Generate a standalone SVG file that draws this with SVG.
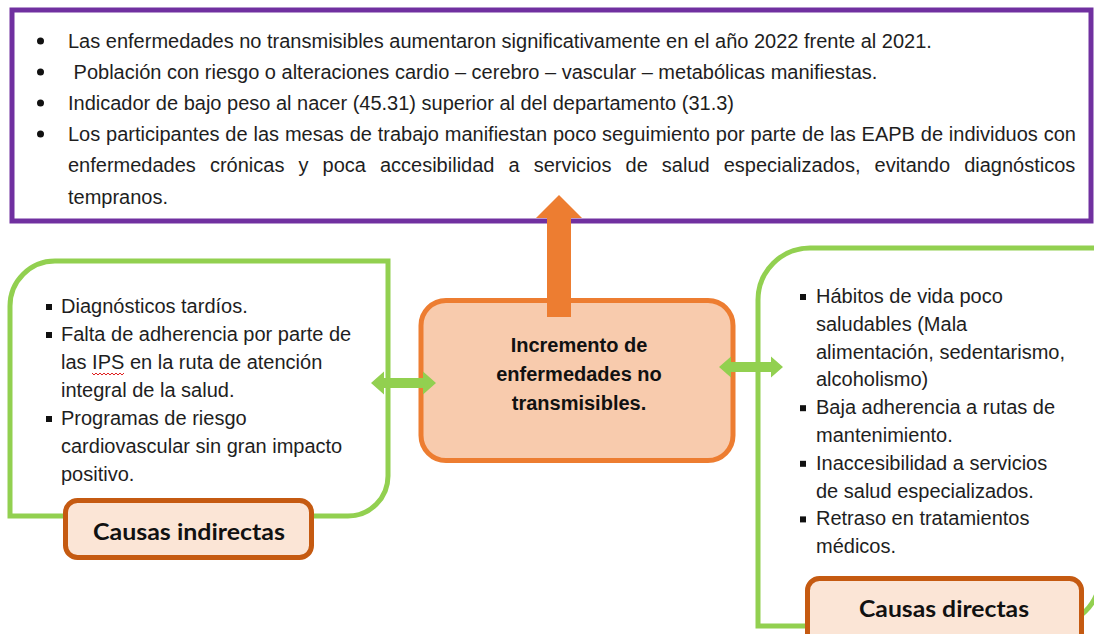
<svg xmlns="http://www.w3.org/2000/svg" width="1094" height="634" viewBox="0 0 1094 634">
<style>
.t{font-family:"Liberation Sans",Arial,sans-serif;font-size:20px;fill:#1e1e1e}
.b{font-family:"Liberation Sans",Arial,sans-serif;font-size:20px;font-weight:bold;fill:#111;text-anchor:middle}
.lab{font-family:Lato,"Open Sans",sans-serif;font-size:22px;font-weight:bold;fill:#111;text-anchor:middle}
.green{fill:none;stroke:#92D050;stroke-width:5}
.garrow{fill:#92D050}
.labbox{fill:#FBE5D6;stroke:#C55A11;stroke-width:5}
.sq{fill:#111}
</style>
<rect width="1094" height="634" fill="#fff"/>
<g id="efectos">
<rect x="12" y="10" width="1079" height="211" fill="#fff" stroke="#7030A0" stroke-width="5"/>
<circle cx="40.5" cy="41" r="3.5" fill="#111"/>
<circle cx="40.5" cy="72" r="3.5" fill="#111"/>
<circle cx="40.5" cy="103" r="3.5" fill="#111"/>
<circle cx="40.5" cy="134" r="3.5" fill="#111"/>
<text class="t" x="68" y="48">Las enfermedades no transmisibles aumentaron significativamente en el año 2022 frente al 2021.</text>
<text class="t" x="73.6" y="79">Población con riesgo o alteraciones cardio – cerebro – vascular – metabólicas manifiestas.</text>
<text class="t" x="68" y="110">Indicador de bajo peso al nacer (45.31) superior al del departamento (31.3)</text>
<text class="t" x="68" y="141" word-spacing="0.3">Los participantes de las mesas de trabajo manifiestan poco seguimiento por parte de las EAPB de individuos con</text>
<text class="t" x="68" y="172" word-spacing="8.5">enfermedades crónicas y poca accesibilidad a servicios de salud especializados, evitando diagnósticos</text>
<text class="t" x="68" y="204">tempranos.</text>
</g>
<g id="causas-indirectas">
<path class="green" d="M10,516 L10,306 A45,45 0 0 1 55,261 L388,261 L388,476 A40,40 0 0 1 348,516 Z"/>
<rect class="sq" x="46" y="304" width="6" height="6"/>
<rect class="sq" x="46" y="332" width="6" height="6"/>
<rect class="sq" x="46" y="416" width="6" height="6"/>
<text class="t" x="61" y="313">Diagnósticos tardíos.</text>
<text class="t" x="61" y="341">Falta de adherencia por parte de</text>
<text class="t" x="61" y="369">las IPS en la ruta de atención</text>
<path d="M92,373 l2,2 l2,-2 l2,2 l2,-2 l2,2 l2,-2 l2,2 l2,-2 l2,2 l2,-2 l2,2 l2,-2 l2,2 l2,-2 l2,2 l2,-2" fill="none" stroke="#e02020" stroke-width="1"/>
<text class="t" x="61" y="397">integral de la salud.</text>
<text class="t" x="61" y="425">Programas de riesgo</text>
<text class="t" x="61" y="453">cardiovascular sin gran impacto</text>
<text class="t" x="61" y="481">positivo.</text>
<rect class="labbox" x="65.5" y="500.5" width="246" height="57" rx="12"/>
<text class="lab" x="189" y="540" textLength="192" lengthAdjust="spacingAndGlyphs">Causas indirectas</text>
</g>
<g id="causas-directas">
<path class="green" d="M758,626 L758,300 A52,52 0 0 1 810,248 L1100,248 L1100,576 A50,50 0 0 1 1050,626 Z"/>
<rect class="sq" x="800" y="294" width="6" height="6"/>
<rect class="sq" x="800" y="405.2" width="6" height="6"/>
<rect class="sq" x="800" y="460.8" width="6" height="6"/>
<rect class="sq" x="800" y="516.4" width="6" height="6"/>
<text class="t" x="816" y="303">Hábitos de vida poco</text>
<text class="t" x="816" y="330.8">saludables (Mala</text>
<text class="t" x="816" y="358.6">alimentación, sedentarismo,</text>
<text class="t" x="816" y="386.4">alcoholismo)</text>
<text class="t" x="816" y="414.2">Baja adherencia a rutas de</text>
<text class="t" x="816" y="442">mantenimiento.</text>
<text class="t" x="816" y="469.8">Inaccesibilidad a servicios</text>
<text class="t" x="816" y="497.6">de salud especializados.</text>
<text class="t" x="816" y="525.4">Retraso en tratamientos</text>
<text class="t" x="816" y="553.2">médicos.</text>
<rect class="labbox" x="807.5" y="578.5" width="274" height="70" rx="12"/>
<text class="lab" x="944" y="617" textLength="170" lengthAdjust="spacingAndGlyphs">Causas directas</text>
</g>
<g id="problema">
<rect x="421" y="300.5" width="312" height="160" rx="25" fill="#F8CBAD" stroke="#ED7D31" stroke-width="5"/>
<text class="b" x="579" y="352">Incremento de</text>
<text class="b" x="579" y="381">enfermedades no</text>
<text class="b" x="579" y="410">transmisibles.</text>
</g>
<g id="connectors">
<polygon class="garrow" points="371,383 384,371.5 384,378 423,378 423,371.5 436,383 423,394.5 423,388 384,388 384,394.5"/>
<polygon class="garrow" points="719,367 731,356.5 731,362 771,362 771,356.5 783,367 771,377.5 771,372 731,372 731,377.5"/>
<polygon points="559,195 582,218 571,218 571,317 547,317 547,218 536,218" fill="#ED7D31"/>
</g>
</svg>
